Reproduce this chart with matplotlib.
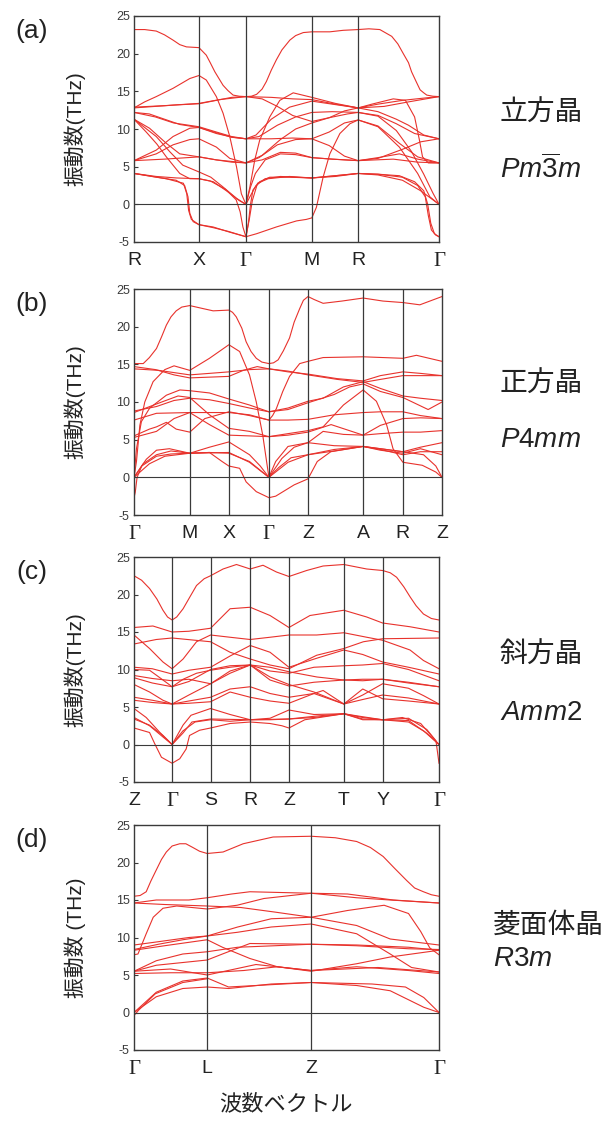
import matplotlib.pyplot as plt

plt.rcParams['font.family'] = ['Liberation Sans', 'Noto Sans CJK JP']
plt.rcParams['mathtext.fontset'] = 'custom'
plt.rcParams['mathtext.it'] = 'Liberation Sans:italic'
plt.rcParams['mathtext.rm'] = 'Liberation Sans'
plt.rcParams['axes.unicode_minus'] = False

RED = '#e8322c'
DARK = '#3a3a3a'

# ---------------- phonon dispersions (THz) along the k-path ----------------
# (a) cubic Pm-3m : R-X-G-M-R-G
cubic_kpts = [0, 21.3, 36.7, 58.3, 73.5, 100]
cubic_labels = ['R', 'X', 'Γ', 'M', 'R', 'Γ']
cubic_bands = [
    [(0, 23.2), (3.5, 23.2), (7.3, 23.0), (10, 22.5), (12.8, 21.8), (15, 21.2), (17.2, 20.9), (21.3, 20.8),
     (23.7, 19.8), (25, 18.8), (26.5, 17.6), (28, 16.6), (29.2, 15.8), (30.8, 15.1), (32.5, 14.5), (34.5, 14.35),
     (36.7, 14.3), (38.5, 14.35), (40.2, 14.6), (42, 15.3), (43.4, 16.3), (45, 17.8), (46.7, 19.2), (48.5, 20.5),
     (51.1, 21.8), (53, 22.4), (55.5, 22.8), (58.3, 22.9), (64.2, 22.9), (68.6, 23.1), (73.5, 23.2), (77, 23.3),
     (80.6, 23.2), (84.5, 22.3), (86.5, 21.3), (88.3, 20.0), (90, 18.8), (91, 17.6), (92.5, 16.3), (93.8, 15.2),
     (95, 14.8), (96, 14.5), (98, 14.35), (100, 14.3)],
    [(0, 12.8), (7, 13.0), (14, 13.2), (21.3, 13.35), (27, 13.8), (32, 14.2), (36.7, 14.3), (45, 14.2), (52, 14.0),
     (58.3, 13.9), (66, 13.3), (73.5, 12.8), (80, 13.3), (88, 13.8), (95, 14.1), (100, 14.3)],
    [(0, 12.9), (10, 13.1), (21.3, 13.4), (28, 13.9), (36.7, 14.3), (42, 14.0), (47, 13.0), (52, 11.8), (58.3, 11.0),
     (64, 11.5), (70, 12.0), (73.5, 12.2), (80, 11.8), (86, 10.7), (92, 9.4), (100, 8.7)],
    [(0, 12.2), (5, 12.0), (10, 11.3), (15, 10.6), (21.3, 10.2), (27, 9.4), (32.5, 8.9), (36.7, 8.7), (45, 8.7),
     (52, 8.8), (58.3, 8.7), (64, 7.8), (69, 6.4), (73.5, 5.8), (80, 6.1), (88, 7.3), (94, 8.3), (100, 8.7)],
    [(0, 12.2), (7, 11.6), (13, 10.8), (21.3, 10.3), (27, 9.6), (32, 9.0), (36.7, 8.7), (41, 9.0), (47, 10.5),
     (53, 11.6), (58.3, 12.2), (65, 12.3), (73.5, 12.2), (80, 11.7), (86, 9.8), (91, 7.0), (95, 4.0), (98, 1.5),
     (100, 0)],
    [(0, 5.8), (7.3, 7.2), (12.8, 9.0), (18.3, 10.1), (21.3, 10.2), (27, 9.5), (32, 8.9), (36.7, 8.7), (40, 9.2),
     (45, 11.3), (51, 12.9), (58.3, 13.7), (65, 13.3), (73.5, 12.8), (78, 13.3), (85, 14.0), (89, 13.8), (92, 11.6),
     (93.6, 8.5), (94.6, 6.3), (96.5, 5.5), (100, 5.5)],
    [(0, 11.3), (5.1, 10.1), (10.6, 8.1), (15, 6.7), (21.3, 6.3), (27, 5.9), (32, 5.6), (36.7, 5.5), (42, 5.9),
     (48, 6.9), (53, 6.8), (58.3, 6.2), (65, 6.0), (73.5, 5.8), (85, 6.0), (93, 5.6), (100, 5.5)],
    [(0, 5.8), (7.3, 6.7), (12.8, 7.9), (18.3, 8.6), (21.3, 8.7), (27, 7.6), (31.4, 6.1), (36.7, 5.5), (41, 6.2),
     (47, 7.9), (53, 8.6), (58.3, 8.7), (64, 9.6), (69, 10.8), (73.5, 11.2), (80, 10.4), (87, 8.1), (93, 6.3),
     (100, 5.5)],
    [(0, 5.8), (10, 6.0), (21.3, 6.3), (27, 5.9), (36.7, 5.5), (42, 6.5), (48, 8.6), (53, 10.0), (58.3, 10.8),
     (64, 11.5), (69, 12.4), (73.5, 12.8), (80, 12.3), (86, 11.3), (90, 10.5), (95, 9.2), (100, 8.7)],
    [(0, 12.8), (3.5, 13.6), (7.3, 14.3), (12.8, 15.4), (18.3, 16.7), (21.3, 17.1), (23.7, 16.5), (27, 14.3),
     (29.2, 12.1), (31.4, 9.0), (33.6, 5.0), (35.2, 1.4), (36.7, 0), (38, 2.3), (39.6, 5.9), (41.2, 8.5),
     (44.5, 11.6), (47.8, 13.8), (52.2, 14.8), (58.3, 14.2), (66, 13.4), (73.5, 12.8), (82, 13.0), (90, 13.6),
     (100, 14.3)],
    [(0, 11.3), (4, 9.6), (7.5, 8.0), (10.6, 6.3), (15, 4.1), (18.3, 3.4), (21.3, 3.4), (25, 3.1), (30, 2.0),
     (33.5, 0.6), (34.8, -1.0), (35.7, -3.0), (36.7, -4.3), (37.5, -2.5), (38.2, 0), (39, 1.9), (41.2, 3.0),
     (44.5, 3.6), (51, 3.6), (58.3, 3.5), (66, 3.7), (73.5, 4.1), (80, 4.0), (88, 3.6), (93, 2.5), (95.5, 1.0),
     (96.5, -1.5), (97.5, -3.4), (99, -4.1), (100, -4.3)],
    [(0, 11.3), (7.3, 9.0), (11.7, 7.0), (16, 5.2), (21.3, 4.3), (25.2, 3.6), (29.2, 2.3), (33.6, 0.8), (36.7, 0),
     (38, 1.0), (40, 2.5), (43, 3.4), (48, 3.7), (58.3, 3.5), (66, 3.8), (73.5, 4.1), (80, 4.0), (87, 3.8),
     (92, 3.0), (95, 1.8), (96.3, 0), (97.3, -2.5), (98.5, -3.9), (100, -4.3)],
    [(0, 4.1), (7.3, 3.7), (14, 3.5), (21.3, 3.4), (26, 3.0), (31, 1.6), (34.5, 0.5), (36.7, 0), (38.2, 2.3),
     (39.8, 4.1), (43, 5.9), (48, 6.7), (53, 6.6), (58.3, 6.2), (65, 6.0), (73.5, 5.8), (80, 6.2), (87, 6.7),
     (93, 6.0), (100, 5.5)],
    [(0, 4.1), (7.3, 3.6), (13.8, 3.2), (16.6, 2.5), (17.7, 1.0), (18.3, -1.2), (19.4, -2.3), (21.3, -2.7),
     (25.9, -3.0), (31.4, -3.7), (36.7, -4.3), (40.2, -3.9), (46.7, -3.0), (53.3, -2.2), (56.5, -2.0), (58.3, -1.8),
     (59.8, -0.4), (62, 3.6), (64.2, 6.7), (67.5, 9.4), (70.8, 10.7), (73.5, 11.2), (80, 10.3), (87, 7.6),
     (93, 4.1), (97, 1.0), (100, 0)],
    [(0, 4.1), (10.6, 3.4), (16.2, 2.8), (17.3, 1.4), (17.9, -0.8), (18.8, -2.0), (21.3, -2.7), (26, -3.1),
     (31, -3.6), (36.7, -4.3), (37.8, -2.0), (38.8, 0.5), (40.5, 2.8), (44, 3.4), (51, 3.7), (58.3, 3.5),
     (66, 3.8), (73.5, 4.1), (80, 3.9), (88, 3.2), (94, 1.8), (100, 0)],
]

# (b) tetragonal P4mm : G-M-X-G-Z-A-R-Z
tetra_kpts = [0, 18.1, 30.8, 43.8, 56.5, 74.4, 87.3, 100]
tetra_labels = ['Γ', 'M', 'X', 'Γ', 'Z', 'A', 'R', 'Z']
tetra_bands = [
    [(0, 15.1), (3, 15.1), (5, 15.9), (7.3, 17.1), (9, 18.7), (10.5, 20.2), (12, 21.3), (13.7, 22.1), (15.5, 22.6),
     (18.1, 22.8), (22.4, 22.4), (25.7, 22.1), (30.8, 22.2), (32, 21.9), (33.2, 21.3), (35, 19.8), (36.4, 18.0),
     (38, 16.7), (39.7, 15.8), (41.5, 15.3), (43.8, 15.1), (45.3, 15.2), (46.8, 15.6), (48.5, 16.8), (50.5, 18.5),
     (52, 20.6), (53.8, 22.4), (55, 23.5), (56.5, 24.0), (58.5, 23.6), (61.4, 23.1), (67.5, 23.4), (74.4, 23.8),
     (80.8, 23.4), (87.3, 23.2), (92.8, 22.9), (100, 24.0)],
    [(0, 14.7), (7, 14.3), (13, 13.6), (18.1, 13.2), (24.5, 13.3), (30.8, 13.4), (35.5, 14.2), (40, 14.7),
     (43.8, 14.4), (50, 14.0), (56.5, 13.7), (66, 13.1), (74.4, 12.8), (80, 13.5), (87.3, 14.0), (93, 13.8),
     (100, 13.5)],
    [(0, 14.4), (8, 14.2), (18.1, 13.6), (24.5, 13.8), (30.8, 14.0), (37.5, 14.3), (43.8, 14.4), (50, 14.1),
     (56.5, 13.6), (66, 13.0), (74.4, 12.6), (80, 13.0), (87.3, 13.5), (100, 13.5)],
    [(0, 0), (0.8, 2.1), (1.9, 6.9), (3.5, 10.0), (6.2, 12.7), (10, 14.3), (13, 14.8), (18.1, 14.2), (24.5, 15.8),
     (30.8, 17.6), (34.3, 16.7), (37.5, 13.6), (39.7, 10.0), (41.8, 5.6), (43.8, 0), (46, 2.1), (50, 4.1),
     (56.5, 4.6), (61.4, 6.1), (68, 5.7), (74.4, 5.6), (80, 5.8), (87.3, 6.0), (93, 6.0), (100, 6.2)],
    [(0, 0), (0.8, 3.8), (2.4, 7.4), (5.1, 9.2), (10.5, 10.9), (14.9, 11.6), (18.1, 11.5), (24.5, 11.2),
     (30.8, 10.4), (37.5, 9.6), (43.8, 8.7), (50, 9.2), (56.5, 10.1), (61.4, 10.5), (68, 12.0), (74.4, 12.7),
     (80, 11.8), (87.3, 10.8), (93, 10.5), (100, 10.2)],
    [(0, 8.8), (7.3, 9.4), (13, 10.2), (18.1, 10.5), (24.5, 10.3), (30.8, 9.8), (37.5, 9.2), (43.8, 8.7), (50, 9.0),
     (56.5, 9.9), (65, 11.0), (70, 12.0), (74.4, 12.4), (80, 11.4), (87.3, 10.6), (95.5, 9.0), (100, 10.0)],
    [(0, 8.6), (9, 10.0), (14.3, 10.8), (18.1, 10.6), (24.5, 8.3), (30.8, 6.5), (37.5, 6.1), (43.8, 5.4), (50, 5.8),
     (56.5, 6.2), (61.4, 6.7), (68, 9.6), (74.4, 11.6), (78.7, 10.1), (82, 7.0), (84.1, 3.8), (87.3, 2.0),
     (93.6, 1.6), (98, 0.7), (100, 0)],
    [(0, 7.6), (7.3, 8.5), (18.1, 8.6), (24.5, 8.6), (30.8, 8.6), (37.5, 8.3), (43.8, 7.6), (50, 7.6), (56.5, 7.7),
     (65, 8.3), (74.4, 8.6), (80, 8.7), (87.3, 8.7), (93, 8.2), (100, 7.8)],
    [(0, 5.5), (5, 6.4), (7.3, 6.7), (10.5, 7.3), (13.7, 6.4), (18.1, 6.0), (23, 7.8), (30.8, 8.7), (37.5, 8.2),
     (43.8, 7.6), (45, 8.2), (46.2, 9.1), (48.3, 11.4), (50.5, 13.4), (53.8, 15.1), (56.5, 15.4), (61.4, 15.9),
     (74.4, 16.0), (87.3, 15.8), (91.7, 16.2), (100, 15.4)],
    [(0, 5.3), (7.3, 6.1), (13, 7.8), (18.1, 8.6), (24.5, 7.0), (30.8, 5.6), (37.5, 5.5), (43.8, 5.4), (50, 5.6),
     (56.5, 6.0), (64, 7.0), (74.4, 5.6), (80, 6.9), (87.3, 7.8), (93, 7.9), (100, 7.8)],
    [(0, 0), (3, 1.8), (7.3, 3.0), (12, 3.5), (18.1, 3.2), (24.5, 3.3), (30.8, 3.2), (37.5, 2.1), (43.8, 0),
     (47, 1.3), (51, 2.6), (56.5, 3.0), (65, 3.5), (74.4, 4.1), (80, 3.7), (87.3, 3.0), (93, 3.4), (100, 3.4)],
    [(0, -2.7), (0.4, -2.0), (1, 0), (2.5, 1.5), (7.3, 2.8), (12, 3.1), (18.1, 3.2), (24.5, 3.3), (28.6, 2.1),
     (30.8, 1.5), (34.3, 1.2), (36.4, -0.6), (39.7, -1.9), (43.8, -2.7), (46, -2.5), (52, -1.0), (56.5, -0.2),
     (59.5, 2.1), (63.9, 3.4), (74.4, 4.1), (80, 3.8), (87.3, 3.4), (94, 3.0), (98, 1.5), (100, 0)],
    [(0, 0), (4, 2.4), (7.3, 3.6), (11.5, 3.8), (18.1, 3.2), (30.8, 3.3), (37.5, 2.0), (43.8, 0), (50, 2.0),
     (56.5, 3.0), (65, 3.7), (74.4, 4.1), (80, 3.6), (87.3, 3.2), (93, 3.8), (100, 3.0)],
    [(0, 0), (5, 1.8), (10, 2.8), (18.1, 3.2), (24.5, 4.0), (30.8, 4.7), (37.5, 3.0), (41, 1.5), (43.8, 0),
     (48, 2.5), (52, 4.0), (56.5, 4.6), (65, 4.2), (74.4, 4.1), (80, 3.8), (87.3, 3.4), (93, 4.0), (100, 4.6)],
]

# (c) orthorhombic Amm2 : Z-G-S-R-Z-T-Y-G
ortho_kpts = [0, 12.5, 25.1, 38.1, 50.8, 68.8, 81.5, 100]
ortho_labels = ['Z', 'Γ', 'S', 'R', 'Z', 'T', 'Y', 'Γ']
ortho_bands = [
    [(0, 22.5), (2.5, 21.9), (5.1, 20.8), (7.5, 19.4), (9.5, 17.9), (11, 17.0), (12.5, 16.6), (14, 17.0),
     (16.1, 18.1), (18.5, 19.8), (20.5, 21.2), (23, 22.1), (25.1, 22.5), (29.2, 23.4), (33.6, 24.0), (38.1, 23.4),
     (42.3, 23.9), (46.7, 23.0), (50.8, 22.4), (56.6, 23.2), (62, 23.8), (68.8, 24.0), (76.3, 23.4), (81.5, 23.2),
     (84, 22.9), (86.1, 22.3), (88.5, 21.0), (90.5, 19.7), (92.5, 18.5), (94.9, 17.4), (97.5, 16.8), (100, 16.6)],
    [(0, 15.6), (6.2, 15.8), (12.5, 15.0), (18, 15.1), (25.1, 15.5), (31.5, 18.1), (38.1, 18.3), (44.6, 17.2),
     (50.8, 15.6), (57.7, 17.2), (68.8, 17.9), (76.3, 17.0), (81.5, 16.2), (90.5, 15.7), (100, 15.0)],
    [(0, 14.6), (5.1, 12.8), (9.5, 11.0), (12.5, 10.1), (16.1, 11.4), (20.5, 13.7), (25.1, 14.6), (31.5, 14.3),
     (38.1, 14.0), (44.6, 14.3), (50.8, 14.6), (59.9, 14.6), (68.8, 14.9), (76.3, 14.3), (81.5, 13.9),
     (90.5, 12.6), (94.9, 11.2), (100, 10.1)],
    [(0, 13.4), (7.3, 14.0), (12.5, 14.2), (25.1, 13.7), (31.5, 12.3), (38.1, 11.4), (44.6, 10.6), (50.8, 10.1),
     (59.9, 11.9), (68.8, 12.8), (75.2, 13.7), (81.5, 14.1), (100, 14.2)],
    [(0, 10.3), (6, 10.1), (12.5, 9.4), (18, 9.9), (25.1, 10.3), (31.5, 11.8), (38.1, 13.2), (44.6, 12.3),
     (50.8, 10.3), (59.9, 11.5), (68.8, 12.6), (75, 12.0), (81.5, 11.0), (90, 10.3), (100, 9.4)],
    [(0, 10.0), (5.1, 9.9), (9.5, 8.6), (12.5, 7.7), (16.1, 8.7), (20.5, 9.5), (25.1, 9.9), (31.5, 10.3),
     (38.1, 10.6), (44.6, 10.3), (50.8, 9.7), (60, 9.0), (68.8, 8.6), (75, 8.5), (81.5, 8.7), (90, 8.2), (100, 7.7)],
    [(0, 9.2), (6, 8.8), (12.5, 8.5), (18, 8.7), (25.1, 8.1), (31.5, 9.5), (38.1, 10.6), (44.6, 9.8), (50.8, 9.5),
     (59, 10.3), (68.8, 10.5), (75, 10.6), (81.5, 10.8), (90, 10.0), (100, 8.5)],
    [(0, 8.9), (6, 8.2), (12.5, 7.7), (18, 8.4), (25.1, 10.0), (31.5, 10.5), (38.1, 10.6), (44.6, 9.0), (50.8, 8.0),
     (59, 7.0), (68.8, 5.4), (75, 6.6), (81.5, 8.1), (90, 7.5), (95, 6.5), (100, 5.4)],
    [(0, 8.0), (5.1, 7.0), (9.5, 5.9), (12.5, 5.4), (18, 6.6), (25.1, 8.1), (31.5, 9.8), (38.1, 10.6), (44.6, 8.6),
     (50.8, 7.8), (59, 8.3), (68.8, 8.6), (75, 8.7), (81.5, 8.7), (90, 8.3), (100, 7.7)],
    [(0, 6.3), (6, 5.9), (12.5, 5.4), (18, 5.8), (25.1, 6.3), (31.5, 7.4), (38.1, 7.7), (44.6, 6.8), (50.8, 6.3),
     (59, 6.8), (68.8, 5.4), (75, 6.0), (81.5, 6.6), (90, 6.2), (100, 5.4)],
    [(0, 5.9), (6, 5.6), (12.5, 5.4), (18, 5.5), (25.1, 5.7), (31.5, 7.0), (38.1, 6.3), (44.6, 5.8), (50.8, 5.5),
     (59, 6.8), (62, 7.2), (68.8, 5.4), (75, 7.4), (81.5, 6.1), (90, 5.8), (100, 5.4)],
    [(0, 4.8), (4, 3.6), (8.5, 1.6), (12.5, 0), (16.1, 2.6), (18.7, 3.9), (25.1, 4.8), (31.5, 4.0), (38.1, 3.3),
     (44.6, 3.5), (50.8, 4.6), (59, 4.0), (68.8, 4.1), (75, 3.7), (81.5, 3.3), (90, 3.0), (95, 1.8), (100, 0)],
    [(0, 3.6), (5.1, 2.5), (9.5, 1.0), (12.5, 0), (16, 1.5), (19, 3.0), (25.1, 3.4), (38.1, 3.3), (50.8, 3.4),
     (60, 3.8), (68.8, 4.1), (75, 3.6), (81.5, 3.3), (90, 3.2), (96, 1.5), (100, 0)],
    [(0, 3.4), (5, 2.6), (9.5, 1.2), (12.5, 0), (16, 1.8), (20, 3.0), (25.1, 3.3), (31.5, 3.1), (38.1, 3.3),
     (44.6, 3.3), (50.8, 3.4), (59, 3.6), (68.8, 4.1), (75, 3.4), (81.5, 3.3), (90, 3.5), (96, 2.0), (99, 0.5),
     (99.5, -1.0), (100, -2.5)],
    [(0, 2.2), (5.1, 1.6), (6.8, 0.1), (9, -1.7), (12.5, -2.5), (15, -1.9), (17.1, -0.6), (18.2, 1.2), (21.5, 1.9),
     (25.1, 2.2), (31.5, 2.8), (38.1, 3.0), (44.6, 2.8), (48.5, 2.5), (50.8, 2.2), (56, 3.3), (68.8, 4.1),
     (75, 3.3), (81.5, 3.3), (88, 3.6), (94, 2.8), (100, 0)],
]

# (d) rhombohedral R3m : G-L-Z-G
rhombo_kpts = [0, 24.0, 58.1, 100]
rhombo_labels = ['Γ', 'L', 'Z', 'Γ']
rhombo_bands = [
    [(0, 15.5), (2, 15.6), (4, 16.1), (5.5, 17.5), (7.3, 19.0), (9, 20.4), (10.6, 21.4), (12.5, 22.2), (15, 22.5),
     (17, 22.5), (19.3, 22.0), (21.5, 21.5), (24, 21.2), (29.2, 21.4), (35.8, 22.5), (45.6, 23.4), (58.1, 23.5),
     (66, 23.3), (73, 22.8), (77.5, 22.0), (81.7, 20.8), (85.5, 19.2), (89.4, 17.6), (92, 16.6), (94.9, 16.1),
     (97.5, 15.7), (100, 15.5)],
    [(0, 14.6), (7.3, 15.0), (18, 15.0), (24, 15.3), (32, 15.8), (38, 16.1), (48, 16.0), (58.1, 15.9), (73, 15.3),
     (84, 15.0), (100, 14.6)],
    [(0, 14.6), (10, 14.4), (24, 14.2), (35, 14.0), (46, 13.4), (58.1, 12.7), (70, 13.6), (82, 14.3), (90, 13.2),
     (94, 10.8), (97, 8.6), (100, 7.7)],
    [(0, 7.7), (1.3, 7.8), (4, 10.5), (6.3, 12.7), (9.5, 13.9), (14, 14.2), (24, 13.8), (33.8, 14.3), (42.6, 15.2),
     (58.1, 15.9), (70, 15.8), (85, 15.0), (100, 14.6)],
    [(0, 9.0), (7.3, 9.4), (18, 10.0), (24, 10.2), (34, 11.4), (45, 12.5), (58.1, 12.7), (73, 11.6), (84, 9.8),
     (100, 9.0)],
    [(0, 8.4), (8, 9.1), (16, 9.7), (24, 10.2), (34, 10.7), (45, 11.4), (58.1, 11.8), (73, 10.5), (84, 7.8),
     (91, 6.0), (100, 5.4)],
    [(0, 8.3), (10, 8.9), (24, 9.7), (29, 8.7), (38, 7.2), (47, 6.1), (58.1, 5.5), (73, 6.5), (84, 7.4),
     (100, 8.3)],
    [(0, 5.5), (7.3, 6.9), (16, 7.8), (24, 8.1), (34, 8.7), (58.1, 9.1), (73, 8.9), (90, 8.5), (100, 8.4)],
    [(0, 5.5), (7.3, 6.3), (24, 7.0), (29, 7.8), (38, 9.2), (58.1, 9.1), (73, 9.0), (90, 8.7), (100, 8.3)],
    [(0, 5.2), (12, 5.3), (24, 5.3), (36, 5.6), (47, 6.1), (58.1, 5.6), (73, 6.1), (90, 5.6), (100, 5.2)],
    [(0, 5.5), (12, 5.8), (24, 5.0), (40, 6.4), (58.1, 5.6), (80, 6.0), (100, 5.4)],
    [(0, 0), (7.3, 2.7), (16, 4.2), (24, 4.6), (31, 3.4), (40, 3.6), (58.1, 4.0), (73, 3.6), (84, 2.9), (95, 0.7),
     (100, 0)],
    [(0, 0), (7.3, 2.1), (16, 3.2), (24, 3.4), (31, 3.2), (45, 3.8), (58.1, 4.0), (78, 3.8), (89, 3.4), (95, 2.0),
     (100, 0)],
    [(0, -0.4), (1.5, 0.3), (7, 2.5), (16, 4.0), (24, 4.5)],
]

panel_tags = ['(a)', '(b)', '(c)', '(d)']
crystal_names = ['立方晶', '正方晶', '斜方晶', '菱面体晶']
space_groups = [r'$Pm\overline{3}m$', r'$P4mm$', r'$Amm2$', r'$R3m$']
ylabels = ['振動数(THz)', '振動数(THz)', '振動数(THz)', '振動数 (THz)']

# ---------------- figure ----------------
W, H = 615, 1122
fig = plt.figure(figsize=(W / 100, H / 100), dpi=100)

# axes frames in pixels: left, top, right, bottom
frames = [(134, 16, 439, 242), (134, 289, 442, 515), (134, 557, 439, 782), (134, 825, 439, 1050)]
panels = [(cubic_kpts, cubic_labels, cubic_bands),
          (tetra_kpts, tetra_labels, tetra_bands),
          (ortho_kpts, ortho_labels, ortho_bands),
          (rhombo_kpts, rhombo_labels, rhombo_bands)]
name_offsets = [(-15, 40), (-17, 38), (-14, 43), (-12, 21)]

for i, ((l, t, r, b), (kpts, labels, bands)) in enumerate(zip(frames, panels)):
    ax = fig.add_axes([l / W, 1 - b / H, (r - l) / W, (b - t) / H])
    for band in bands:
        k = [p[0] for p in band]
        v = [p[1] for p in band]
        ax.plot(k, v, color=RED, lw=0.8, solid_joinstyle='round')
    for kp in kpts[1:-1]:
        ax.axvline(kp, color=DARK, lw=0.9)
    ax.axhline(0, color=DARK, lw=0.8)
    ax.set_xlim(kpts[0], kpts[-1])
    ax.set_ylim(-5, 25)
    ax.set_yticks(range(-5, 26, 5))
    ax.tick_params(axis='y', direction='in', length=3, width=0.8, colors=DARK, labelsize=9, pad=3)
    ax.set_xticks(kpts)
    ax.set_xticklabels(labels)
    ax.tick_params(axis='x', length=0, pad=7, labelsize=14, colors='#222222')
    for lab in ax.get_xticklabels():
        if lab.get_text() == 'Γ':
            lab.set_fontfamily('Liberation Serif')
            lab.set_fontsize(15)
    for sp in ax.spines.values():
        sp.set_color(DARK)
        sp.set_linewidth(1.0)

    cy = (t + b) / 2
    fig.text(32 / W, 1 - (t + 15) / H, panel_tags[i], fontsize=19, ha='center', va='center', color='#222222')
    fig.text(75 / W, 1 - cy / H, ylabels[i], rotation=90, fontsize=15, ha='center', va='center',
             color='#222222')
    nx = 493 if i == 3 else 500
    fig.text(nx / W, 1 - (cy + name_offsets[i][0]) / H, crystal_names[i], fontsize=20, ha='left', va='center',
             color='#222222')
    fig.text(nx / W, 1 - (cy + name_offsets[i][1]) / H, space_groups[i], fontsize=20, ha='left', va='center',
             color='#222222')

fig.text(286 / W, 1 - 1105 / H, '波数ベクトル', fontsize=16, ha='center', va='center', color='#222222')

fig.savefig('out.png', dpi=100)
